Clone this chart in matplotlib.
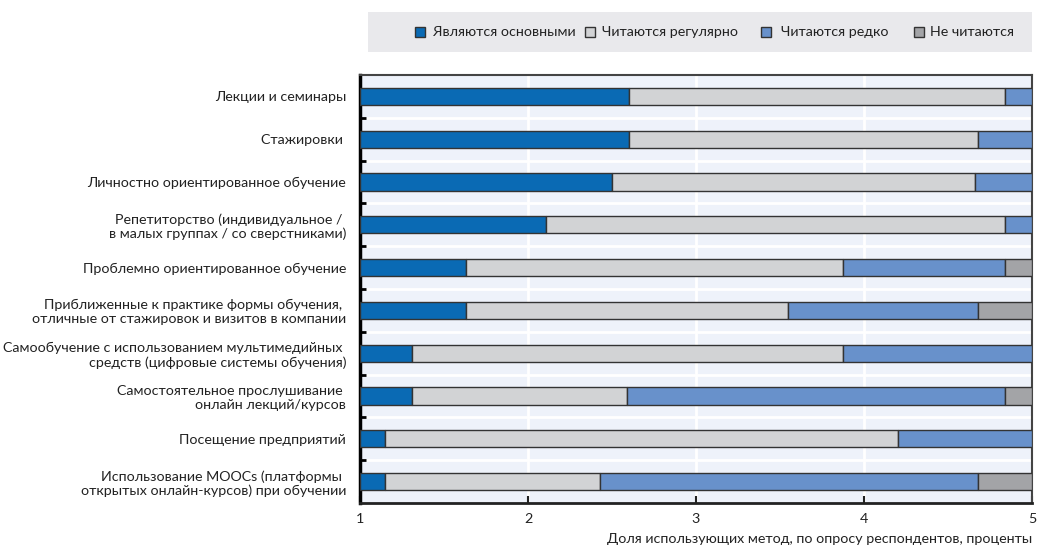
import matplotlib
matplotlib.use("Agg")
import matplotlib.pyplot as plt
import numpy as np
from matplotlib.patches import Rectangle

plt.rcParams['font.family'] = ['Lato', 'DejaVu Sans']

categories = [
    "Лекции и семинары",
    "Стажировки ",
    "Личностно ориентированное обучение",
    "Репетиторство (индивидуальное / \nв малых группах / со сверстниками)",
    "Проблемно ориентированное обучение",
    "Приближенные к практике формы обучения, \nотличные от стажировок и визитов в компании",
    "Самообучение с использованием мультимедийных \nсредств (цифровые системы обучения)",
    "Самостоятельное прослушивание \nонлайн лекций/курсов",
    "Посещение предприятий",
    "Использование MOOCs (платформы \nоткрытых онлайн-курсов) при обучении",
]
series_names = ["Являются основными", "Читаются регулярно", "Читаются редко", "Не читаются"]
main_vals    = [1.60, 1.60, 1.50, 1.11, 0.63, 0.63, 0.31, 0.31, 0.15, 0.15]
regular_vals = [2.24, 2.08, 2.16, 2.73, 2.245, 1.92, 2.565, 1.28, 3.05, 1.28]
rare_vals    = [0.16, 0.32, 0.34, 0.16, 0.965, 1.13, 1.125, 2.25, 0.80, 2.25]
never_vals   = [0.00, 0.00, 0.00, 0.00, 0.16, 0.32, 0.00, 0.16, 0.00, 0.32]
x_ticks = [1, 2, 3, 4, 5]
x_label = "Доля использующих метод, по опросу респондентов, проценты"

colors = ["#0a6ab4", "#d2d3d5", "#6891cb", "#a3a4a7"]

fig = plt.figure(figsize=(10.42, 5.48), dpi=100)
ax = fig.add_axes([360/1042, 1-503/548, (1032-360)/1042, (503-75)/548])
ax.set_facecolor("#eef2fa")

y = np.arange(len(categories))
left = np.ones(len(categories))
for vals, col in zip([main_vals, regular_vals, rare_vals, never_vals], colors):
    v = np.array(vals)
    mask = v > 0
    ax.barh(y[mask], v[mask], left=left[mask], height=0.4, color=col,
            edgecolor="#333333", linewidth=1.0, zorder=3)
    left = left + v

ax.set_xlim(1, 5)
ax.set_ylim(len(categories) - 0.5, -0.5)
ax.set_xticks(x_ticks)
ax.set_xticklabels([str(t) for t in x_ticks], fontsize=10.3, color="#222222")
ax.set_yticks(y)
ax.set_yticklabels(categories, fontsize=10.3, color="#222222", linespacing=1.2)
ax.set_yticks(np.arange(0.5, len(categories) - 1, 1.0), minor=True)

ax.tick_params(axis='y', which='major', length=0, pad=10)
ax.tick_params(axis='y', which='minor', direction='in', length=4, width=2, color="black")
ax.tick_params(axis='x', which='major', direction='in', length=5, width=1.5, color="#222222", pad=7)

for xv in [2, 3, 4]:
    ax.axvline(xv, color="white", linewidth=2, zorder=1)
for yv in np.arange(0.5, len(categories) - 1, 1.0):
    ax.axhline(yv, color="white", linewidth=2, zorder=1)

ax.spines['left'].set_linewidth(2.5)
ax.spines['left'].set_color("black")
ax.spines['bottom'].set_linewidth(2)
ax.spines['bottom'].set_color("#222222")
ax.spines['top'].set_linewidth(1.5)
ax.spines['top'].set_color("#444444")
ax.spines['right'].set_linewidth(1.5)
ax.spines['right'].set_color("#444444")

fig.text(1032/1042, 1-539/548, x_label, ha='right', va='center', fontsize=10.3, color="#222222")

# legend band
fig.patches.append(Rectangle((368/1042, 1-52/548), (1032-368)/1042, 40/548,
                             transform=fig.transFigure, facecolor="#e9e9ec", edgecolor="none", zorder=0))
sq_x = [415, 585, 761, 914]
tx_x = [433, 602, 781, 930]
ly = 32
for sx, tx, name, col in zip(sq_x, tx_x, series_names, colors):
    fig.patches.append(Rectangle((sx/1042, 1-(ly+5)/548), 10/1042, 10/548,
                                 transform=fig.transFigure, facecolor=col, edgecolor="#333333",
                                 linewidth=1, zorder=2))
    fig.text(tx/1042, 1-ly/548, name, ha='left', va='center', fontsize=10.3, color="#222222")

fig.savefig("out.png", dpi=100)
